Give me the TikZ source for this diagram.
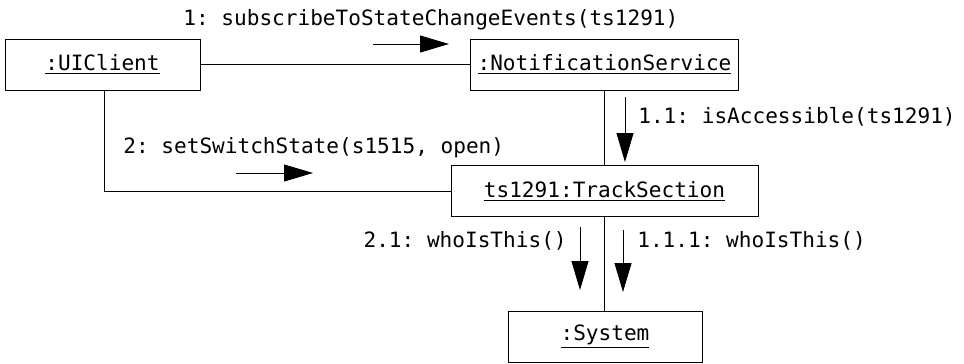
\documentclass[tikz,border=0pt]{standalone}
\usepackage{fontspec}
\setmonofont{DejaVu Sans Mono}
\usetikzlibrary{arrows.meta}
\begin{document}
\begin{tikzpicture}[x=0.02cm,y=-0.02cm,
  font=\ttfamily\fontsize{12}{14}\selectfont,
  obj/.style={draw, line width=0.5pt, inner sep=0pt, minimum height=1.02cm},
  conn/.style={line width=0.5pt},
  msg/.style={line width=0.5pt, -{Triangle[length=0.58cm,width=0.34cm]}},
  lbl/.style={inner sep=0pt}]
\useasboundingbox (0,0) rectangle (964,363);
% objects
\node[obj, minimum width=3.9cm]  (ui)  at (102.5,64.5) {\underline{:UIClient}};
\node[obj, minimum width=5.36cm] (ns)  at (604.5,64.5) {\underline{:NotificationService}};
\node[obj, minimum width=6.14cm] (ts)  at (604.5,191)  {\underline{ts1291:TrackSection}};
\node[obj, minimum width=3.88cm] (sys) at (605,336.5)  {\underline{:System}};
% links
\draw[conn] (ui.east) -- (ns.west);
\draw[conn] (ns.south) -- (ts.north);
\draw[conn] (ts.south) -- (ts.south |- sys.north);
\coordinate (bend) at (104,191);
\draw[conn] (ui.south -| bend) -- (bend) -- (ts.west);
% message 1
\coordinate (m1a) at (373,44); \coordinate (m1b) at (449,44);
\draw[msg] (m1a) -- (m1b);
\node[lbl, anchor=base west] (l1) at (183,25) {1: subscribeToStateChangeEvents(ts1291)};
% message 2
\coordinate (m2a) at (236,173); \coordinate (m2b) at (313,173);
\draw[msg] (m2a) -- (m2b);
\node[lbl, anchor=base west] (l2) at (123,153) {2: setSwitchState(s1515, open)};
% message 1.1
\coordinate (m11a) at (625,97); \coordinate (m11b) at (625,162);
\draw[msg] (m11a) -- (m11b);
\node[lbl, anchor=base west] (l11) at (638,123) {1.1: isAccessible(ts1291)};
% message 2.1
\coordinate (m21a) at (580,227); \coordinate (m21b) at (580,290);
\draw[msg] (m21a) -- (m21b);
\node[lbl, anchor=base east] (l21) at (567,247) {2.1: whoIsThis()};
% message 1.1.1
\coordinate (m111a) at (623,230); \coordinate (m111b) at (623,292);
\draw[msg] (m111a) -- (m111b);
\node[lbl, anchor=base west] (l111) at (637,247) {1.1.1: whoIsThis()};
\end{tikzpicture}
\end{document}
